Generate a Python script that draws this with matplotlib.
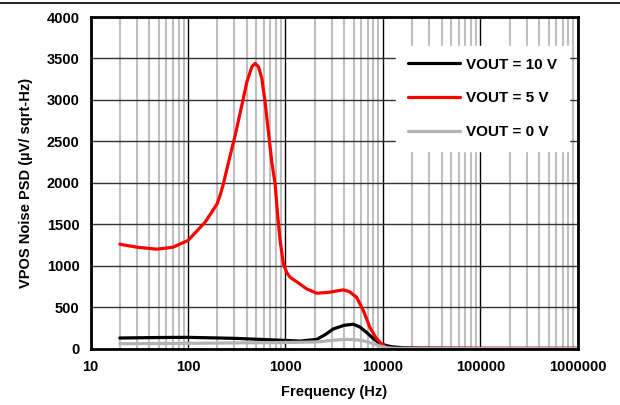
import matplotlib
matplotlib.use("Agg")
import matplotlib.pyplot as plt
from matplotlib.lines import Line2D
from matplotlib.ticker import LogLocator, FixedLocator, NullFormatter

plt.rcParams['font.family'] = ['Liberation Sans', 'DejaVu Sans']
plt.rcParams['font.weight'] = 'bold'

# ─── data ─────────────────────────────────────────────────────────────────────
freq_10v = [20, 50, 100, 300, 1000, 1412, 2091, 2600, 3093, 4000, 4960, 5800,
            6790, 8000, 9290, 11000, 12700, 16000, 25000, 50000, 100000, 1000000]
vout_10v = [129, 135, 137, 125, 100, 92, 112, 175, 238, 282, 295, 262,
            197, 120, 64, 35, 22, 12, 8, 5, 3, 3]

freq_5v = [20, 30, 48, 70, 100, 150, 200, 215, 231, 261, 305, 357, 402, 452,
           489, 529, 572, 618, 669, 724, 783, 830, 881, 953, 1030, 1114, 1400,
           1651, 2091, 2800, 3500, 3918, 4500, 5370, 6300, 7350, 8500, 9680,
           11000, 12700, 15000, 20000, 50000, 100000, 1000000]
vout_5v = [1260, 1224, 1200, 1224, 1305, 1526, 1752, 1860, 1990, 2251, 2574,
           2937, 3218, 3400, 3440, 3400, 3259, 2976, 2614, 2251, 1990, 1620,
           1305, 1023, 920, 862, 782, 721, 669, 680, 700, 709, 690, 620, 460,
           258, 130, 57, 10, -5, 0, 5, 5, 5, 5]

freq_0v = [20, 100, 1000, 1500, 2091, 3000, 4000, 4960, 6000, 7000, 8000,
           9300, 11000, 13000, 20000, 100000, 1000000]
vout_0v = [60, 65, 75, 78, 82, 100, 112, 110, 100, 82, 60,
           32, 12, 5, 3, 2, 2]

labels = ['VOUT = 10 V', 'VOUT = 5 V', 'VOUT = 0 V']
colors = ['black', '#ff0000', '#b3b3b3']

# ─── figure ───────────────────────────────────────────────────────────────────
fig = plt.figure(figsize=(6.2, 4.05), dpi=100)
ax = fig.add_axes([0.146, 0.139, 0.786, 0.819])

fig.add_artist(Line2D([0, 1], [0.993, 0.993], color='black', lw=1.2,
                      transform=fig.transFigure))

for f, v, c, lab in [(freq_10v, vout_10v, colors[0], labels[0]),
                     (freq_5v, vout_5v, colors[1], labels[1]),
                     (freq_0v, vout_0v, colors[2], labels[2])]:
    ax.plot(f, v, color=c, lw=2.3, label=lab, solid_joinstyle='round',
            solid_capstyle='round')

ax.set_xscale('log')
ax.set_xlim(10, 1e6)
ax.set_ylim(0, 4000)
ax.xaxis.set_major_locator(FixedLocator([10, 100, 1000, 10000, 100000, 1000000]))
ax.xaxis.set_minor_locator(LogLocator(base=10, subs=range(2, 10), numticks=20))
ax.xaxis.set_minor_formatter(NullFormatter())
ax.set_xticklabels(['10', '100', '1000', '10000', '100000', '1000000'])
ax.set_yticks(range(0, 4001, 500))

ax.grid(which='minor', axis='x', color='#bfbfbf', lw=1.5)
ax.grid(which='major', axis='x', color='black', lw=1.0)
ax.grid(which='major', axis='y', color='#333333', lw=1.0)
ax.set_axisbelow(True)

ax.tick_params(which='both', length=0, labelsize=10.5, pad=8)
for lab in ax.get_xticklabels() + ax.get_yticklabels():
    lab.set_fontweight('bold')

for s in ax.spines.values():
    s.set_linewidth(2)

ax.set_xlabel('Frequency (Hz)', fontsize=10.5, fontweight='bold', labelpad=8)
ax.set_ylabel('VPOS Noise PSD (µV/ sqrt-Hz)', fontsize=10.5,
              fontweight='bold', labelpad=10)

leg = ax.legend(loc='upper right', bbox_to_anchor=(0.998, 0.937),
                frameon=True, facecolor='white', edgecolor='white',
                framealpha=1, fancybox=False, handlelength=3.4,
                labelspacing=1.28, borderpad=0.8, handletextpad=0.4,
                prop={'size': 11, 'weight': 'bold'})

fig.savefig('out.png', dpi=100)
